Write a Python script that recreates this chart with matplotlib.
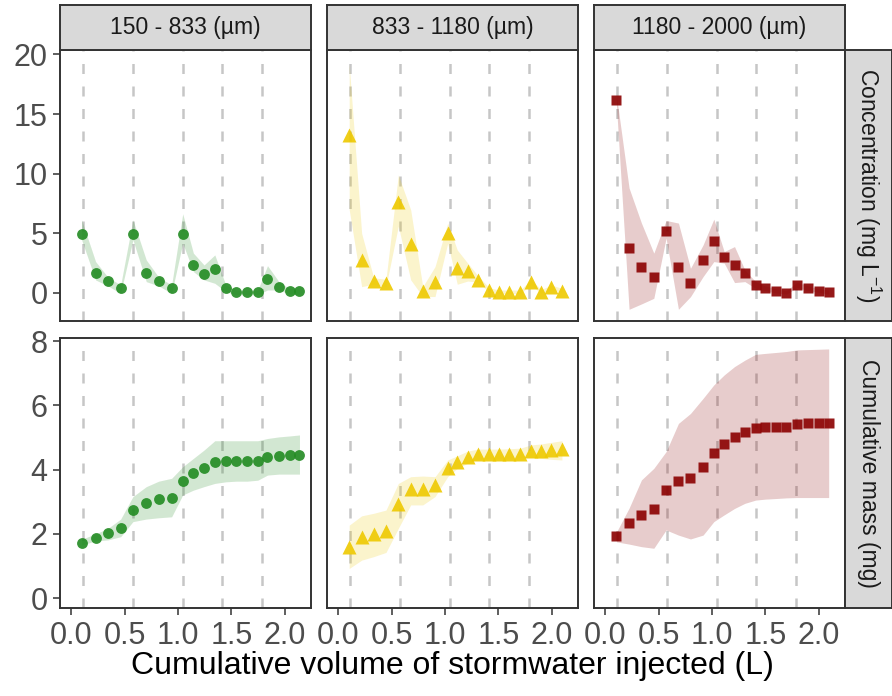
import numpy as np
import matplotlib
matplotlib.use("Agg")
import matplotlib.pyplot as plt

plt.rcParams['font.family'] = ['Liberation Sans', 'DejaVu Sans']
plt.rcParams['mathtext.fontset'] = 'custom'
plt.rcParams['mathtext.rm'] = 'Liberation Sans'
plt.rcParams['mathtext.it'] = 'Liberation Sans:italic'

# facet labels
fractions = ['150 - 833 (µm)', '833 - 1180 (µm)', '1180 - 2000 (µm)']
row_labels = [r'Concentration (mg L$^{-1}$)', 'Cumulative mass (mg)']
x_title = 'Cumulative volume of stormwater injected (L)'

# injection events (dashed lines)
injections = [0.105, 0.58, 1.044, 1.41, 1.789]

# 150 - 833 um
x_small = [0.096, 0.227, 0.343, 0.462, 0.577, 0.702, 0.819, 0.94, 1.044, 1.144,
           1.244, 1.345, 1.448, 1.545, 1.648, 1.748, 1.839, 1.946, 2.049, 2.139]
conc_small = [4.93, 1.71, 0.98, 0.39, 4.93, 1.71, 0.98, 0.39, 4.93, 2.35,
              1.6, 1.99, 0.39, 0.05, 0.05, 0.05, 1.15, 0.5, 0.19, 0.17]
conc_small_lo = [4.45, 1.09, 0.59, -0.03, 4.45, 0.95, 0.59, -0.03, 4.17, 1.79,
                 1.09, 0.81, 0.11, -0.15, -0.15, -0.15, 0.25, 0.25, -0.1, -0.12]
conc_small_hi = [6.13, 2.63, 1.32, 0.67, 6.13, 2.77, 1.32, 0.67, 6.64, 3.34,
                 2.35, 3.19, 0.67, 0.25, 0.25, 0.25, 2.29, 0.95, 0.34, 0.3]
mass_small = [1.71, 1.88, 2.03, 2.19, 2.75, 2.97, 3.08, 3.12, 3.64, 3.88,
              4.05, 4.25, 4.28, 4.28, 4.28, 4.28, 4.38, 4.42, 4.45, 4.45]
mass_small_lo = [1.65, 1.78, 1.81, 1.91, 2.38, 2.46, 2.5, 2.53, 3.21, 3.36,
                 3.47, 3.57, 3.62, 3.64, 3.64, 3.67, 3.83, 3.86, 3.86, 3.86]
mass_small_hi = [1.83, 2.0, 2.17, 2.46, 3.16, 3.47, 3.64, 3.73, 4.09, 4.35,
                 4.61, 4.9, 4.9, 4.9, 4.9, 4.9, 4.97, 5.02, 5.05, 5.08]

# 833 - 1180 um
x_mid = [0.101, 0.218, 0.331, 0.446, 0.562, 0.678, 0.791, 0.906, 1.025, 1.115,
         1.213, 1.313, 1.413, 1.504, 1.604, 1.707, 1.805, 1.901, 1.998, 2.096]
conc_mid = [13.25, 2.77, 1.04, 0.81, 7.59, 4.09, 0.2, 0.92, 5.01, 2.13,
            1.85, 1.09, 0.25, 0.1, 0.1, 0.1, 0.9, 0.1, 0.48, 0.2]
conc_mid_lo = [7.0, 0.53, 0.73, 0.53, 5.6, 1.1, -0.3, -0.3, 4.17, 0.73,
               1.0, 0.9, 0.05, -0.05, -0.05, -0.05, 0.7, -0.05, 0.3, 0.05]
conc_mid_hi = [19.2, 5.0, 1.27, 1.15, 9.9, 6.97, 0.53, 2.21, 5.86, 3.6,
               2.5, 1.4, 0.45, 0.25, 0.25, 0.25, 1.1, 0.3, 0.65, 0.4]
mass_mid = [1.59, 1.91, 2.01, 2.09, 2.92, 3.41, 3.41, 3.51, 4.06, 4.25,
            4.40, 4.49, 4.49, 4.49, 4.49, 4.49, 4.59, 4.59, 4.61, 4.64]
mass_mid_lo = [0.92, 1.18, 1.29, 1.42, 2.17, 2.9, 2.9, 3.16, 3.78, 4.04,
               4.2, 4.33, 4.35, 4.35, 4.36, 4.37, 4.39, 4.35, 4.32, 4.3]
mass_mid_hi = [2.27, 2.56, 2.64, 2.74, 3.57, 3.78, 3.8, 3.78, 4.3, 4.43,
               4.58, 4.64, 4.64, 4.64, 4.65, 4.67, 4.77, 4.8, 4.85, 4.9]

# 1180 - 2000 um
x_large = [0.103, 0.222, 0.338, 0.454, 0.569, 0.685, 0.798, 0.916, 1.017, 1.114,
           1.211, 1.308, 1.408, 1.496, 1.6, 1.697, 1.797, 1.9, 2.0, 2.094]
conc_large = [16.2, 3.81, 2.16, 1.37, 5.21, 2.21, 0.81, 2.77, 4.37, 3.0,
              2.35, 1.65, 0.67, 0.39, 0.17, 0.03, 0.67, 0.39, 0.2, 0.06]
conc_large_lo = [15.8, -1.37, -0.92, -0.45, 4.6, -1.37, -0.31, 1.37, 2.63, 2.5,
                 0.87, 0.95, 0.39, 0.2, 0.0, -0.1, 0.45, 0.2, 0.05, -0.1]
conc_large_hi = [16.6, 8.8, 5.86, 3.34, 6.08, 5.86, 2.07, 4.03, 6.19, 3.47,
                 3.89, 1.93, 0.95, 0.6, 0.35, 0.2, 0.9, 0.6, 0.35, 0.25]
mass_large = [1.94, 2.33, 2.59, 2.76, 3.36, 3.66, 3.75, 4.08, 4.51, 4.79,
              5.01, 5.18, 5.31, 5.34, 5.34, 5.34, 5.41, 5.44, 5.44, 5.44]
mass_large_lo = [1.75, 1.68, 1.6, 1.55, 2.12, 1.96, 1.84, 1.96, 2.38, 2.59,
                 2.79, 2.95, 3.05, 3.08, 3.1, 3.12, 3.13, 3.13, 3.13, 3.13]
mass_large_hi = [2.05, 2.8, 3.68, 4.04, 4.56, 5.44, 5.75, 6.22, 6.64, 6.95,
                 7.21, 7.41, 7.59, 7.62, 7.65, 7.68, 7.73, 7.74, 7.75, 7.76]

xs = [x_small, x_mid, x_large]
series = [
    [(conc_small, conc_small_lo, conc_small_hi), (conc_mid, conc_mid_lo, conc_mid_hi),
     (conc_large, conc_large_lo, conc_large_hi)],
    [(mass_small, mass_small_lo, mass_small_hi), (mass_mid, mass_mid_lo, mass_mid_hi),
     (mass_large, mass_large_lo, mass_large_hi)],
]
colors = ['#228b22', '#eec900', '#8b0000']
markers = [('o', 7.8), ('^', 9.6), ('s', 7.6)]

# layout in pixels
W, H = 892, 696
col_left = [60, 327, 594]
col_w = 251
row_top = [50, 337.7]
row_h = [271, 270.6]
ylims = [(-2.35, 20.37), (-0.32, 8.11)]
yticks = [[0, 5, 10, 15, 20], [0, 2, 4, 6, 8]]
border = '#333333'

fig = plt.figure(figsize=(W / 100, H / 100), dpi=100)


def px_axes(x0, y0, w, h):
    return fig.add_axes([x0 / W, 1 - (y0 + h) / H, w / W, h / H])


for r in range(2):
    for c in range(3):
        ax = px_axes(col_left[c], row_top[r], col_w, row_h[r])
        x = np.array(xs[c])
        mean, lo, hi = series[r][c]
        for v in injections:
            ax.axvline(v, color='#c6c6c6', lw=1.8, ls=(0, (4.0, 5.0)), zorder=1)
        ax.fill_between(x, lo, hi, color=colors[c], alpha=0.2, lw=0, zorder=2)
        m, ms = markers[c]
        ax.plot(x, mean, ls='none', marker=m, ms=ms, color=colors[c],
                mec='none', alpha=0.9, zorder=3)

        ax.set_xlim(-0.107, 2.247)
        ax.set_ylim(*ylims[r])
        ax.set_xticks([0, 0.5, 1.0, 1.5, 2.0])
        ax.set_yticks(yticks[r])
        ax.tick_params(length=5, width=1.1, color=border, labelcolor='#4d4d4d',
                       labelsize=22, pad=4)
        if r == 1:
            ax.set_xticklabels(['0.0', '0.5', '1.0', '1.5', '2.0'])
        else:
            ax.tick_params(axis='x', bottom=False, labelbottom=False)
        if c > 0:
            ax.tick_params(axis='y', left=False, labelleft=False)
        for s in ax.spines.values():
            s.set_color(border)
            s.set_linewidth(1.4)

# strips on top
for c in range(3):
    sa = px_axes(col_left[c], 5, col_w, 45)
    sa.set_facecolor('#d9d9d9')
    sa.set_xticks([])
    sa.set_yticks([])
    for s in sa.spines.values():
        s.set_color(border)
        s.set_linewidth(1.4)
    sa.text(0.5, 0.5, fractions[c], ha='center', va='center', fontsize=16.5,
            color='#1a1a1a', transform=sa.transAxes)

# strips on right
for r in range(2):
    sa = px_axes(845, row_top[r], 46.5, row_h[r])
    sa.set_facecolor('#d9d9d9')
    sa.set_xticks([])
    sa.set_yticks([])
    for s in sa.spines.values():
        s.set_color(border)
        s.set_linewidth(1.4)
    sa.text(0.5, 0.5, row_labels[r], ha='center', va='center', fontsize=16.5,
            rotation=270, color='#1a1a1a', transform=sa.transAxes)

fig.text(452.5 / W, 1 - 666 / H, x_title, ha='center', va='center',
         fontsize=23, color='black')

fig.savefig('out.png', dpi=100)
